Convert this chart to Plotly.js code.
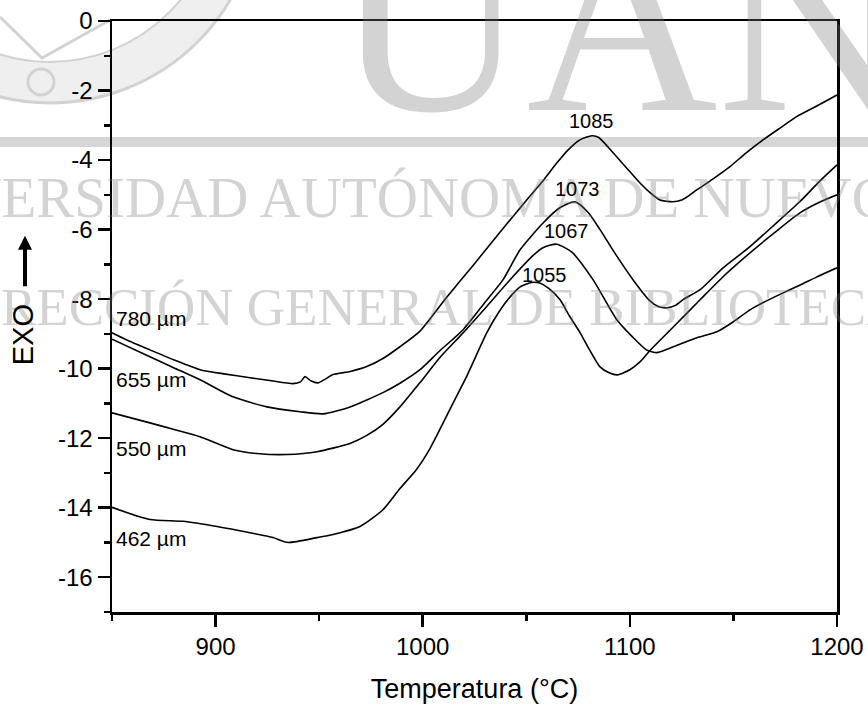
<!DOCTYPE html>
<html>
<head>
<meta charset="utf-8">
<script src="https://cdn.plot.ly/plotly-3.0.1.min.js"></script>
<style>
  html, body { margin: 0; padding: 0; background: #ffffff; }
  #chart { width: 868px; height: 709px; }
</style>
</head>
<body>
<div id="chart"></div>
<script>
// ---- data (Temperatura °C, EXO signal) ----
const t780 = [850, 858, 868.3, 880, 892.5, 904, 916.6, 927, 937.4, 941, 943.2, 946, 949.4, 953, 956.7, 965, 973, 981, 989, 998.7, 1011, 1024.3, 1037, 1050, 1058, 1064.8, 1070, 1075.9, 1081.7, 1085, 1091.9, 1098, 1104.9, 1110, 1114.5, 1120.8, 1125, 1127.6, 1132.3, 1140, 1148.3, 1156, 1164.3, 1172, 1180.5, 1190, 1200];
const v780 = [-8.97, -9.2, -9.46, -9.75, -10.03, -10.15, -10.26, -10.35, -10.43, -10.38, -10.23, -10.35, -10.41, -10.3, -10.17, -10.08, -9.94, -9.7, -9.37, -8.92, -7.99, -7.03, -6.1, -5.16, -4.6, -4.08, -3.72, -3.42, -3.3, -3.35, -3.79, -4.2, -4.66, -4.95, -5.15, -5.2, -5.15, -5.06, -4.86, -4.55, -4.19, -3.8, -3.42, -3.1, -2.75, -2.45, -2.13];

const t655 = [850, 868.3, 880, 892.5, 908.4, 924.8, 940.8, 951.9, 964.9, 980.8, 989, 998.7, 1008, 1019.5, 1030, 1038.8, 1047, 1058.1, 1066, 1073.5, 1079.8, 1085.6, 1093, 1101.5, 1109.7, 1114, 1118, 1122, 1126, 1133.9, 1145, 1158, 1170, 1182, 1191.8, 1200];
const v655 = [-9.15, -9.66, -9.98, -10.32, -10.81, -11.1, -11.24, -11.3, -11.1, -10.69, -10.42, -10.03, -9.5, -8.88, -8.1, -7.44, -6.58, -5.81, -5.38, -5.2, -5.5, -6.0, -6.7, -7.44, -8.05, -8.22, -8.25, -8.18, -8.0, -7.73, -7.1, -6.49, -5.85, -5.2, -4.6, -4.14];

const t550 = [850, 868.3, 880, 892.5, 908.4, 921.4, 934.5, 949, 964.9, 973, 980.8, 989, 998.7, 1008, 1019.5, 1030.9, 1043.6, 1053.2, 1058, 1064.7, 1072, 1082.2, 1093.8, 1101.5, 1108, 1113, 1119, 1125.7, 1133, 1142, 1150, 1158, 1166, 1174, 1182, 1190.3, 1200];
const v550 = [-11.27, -11.56, -11.75, -11.96, -12.33, -12.45, -12.47, -12.39, -12.15, -11.92, -11.6, -11.1, -10.4, -9.7, -8.97, -8.21, -7.35, -6.75, -6.52, -6.42, -6.65, -7.44, -8.6, -9.1, -9.46, -9.54, -9.42, -9.26, -9.1, -8.94, -8.65, -8.31, -8.05, -7.82, -7.6, -7.36, -7.1];

const t462 = [850, 868.3, 884.3, 900.7, 916.6, 927.7, 935, 949, 956.7, 969.7, 980.8, 989, 997, 1003.5, 1014.6, 1021.4, 1030.9, 1037, 1042, 1047, 1052.6, 1056, 1061, 1066.3, 1071, 1076, 1080, 1085.6, 1090, 1094, 1100, 1105, 1109.7, 1120, 1133.9, 1146, 1158, 1170, 1182.1, 1192, 1200];
const v462 = [-13.99, -14.34, -14.39, -14.54, -14.72, -14.86, -15.0, -14.86, -14.77, -14.54, -14.06, -13.45, -12.9, -12.3, -11.0, -10.2, -8.97, -8.35, -7.95, -7.65, -7.52, -7.53, -7.7, -8.02, -8.5, -8.97, -9.4, -9.95, -10.12, -10.18, -10.03, -9.8, -9.48, -8.86, -8.02, -7.3, -6.67, -6.08, -5.52, -5.2, -5.0];

const sizeLabels = ['780 µm', '655 µm', '550 µm', '462 µm'];
const peakLabels = ['1085', '1073', '1067', '1055'];

const xTickVals = [900, 1000, 1100, 1200];
const xTickText = ['900', '1000', '1100', '1200'];
const yTickVals = [0, -2, -4, -6, -8, -10, -12, -14, -16];
const yTickText = ['0', '-2', '-4', '-6', '-8', '-10', '-12', '-14', '-16'];

// ---- traces ----
const series = [[t780, v780], [t655, v655], [t550, v550], [t462, v462]];
const traces = series.map((s, i) => ({
  x: s[0], y: s[1], type: 'scatter', mode: 'lines',
  name: sizeLabels[i],
  line: { color: '#000000', width: 1.6, shape: 'spline', smoothing: 0.6 },
  hoverinfo: 'skip'
}));

// ---- pixel helpers for the watermark (plot area 112..837 x 21..612.5) ----
const PL = 112, PW = 725, PT = 21, PH = 591.5;
const px = v => (v - PL) / PW;
const py = v => 1 - (v - PT) / PH;

const wmColor = 'rgba(120,120,120,0.33)';
const serif = 'Liberation Serif, Times New Roman, serif';
const sans = 'Liberation Sans, Arial, Helvetica, sans-serif';

const annotations = [
  // watermark texts (scan of library copy)
  { xref: 'paper', yref: 'paper', x: px(333), y: py(20.6), xanchor: 'left', yanchor: 'middle',
    text: 'UANL', showarrow: false, font: { family: serif, size: 265, color: wmColor } },
  { xref: 'paper', yref: 'paper', x: px(-143), y: py(197.8), xanchor: 'left', yanchor: 'middle',
    text: 'UNIVERSIDAD AUTÓNOMA DE NUEVO LEÓN', showarrow: false, font: { family: serif, size: 57, color: wmColor } },
  { xref: 'paper', yref: 'paper', x: px(-57), y: py(307.1), xanchor: 'left', yanchor: 'middle',
    text: 'DIRECCIÓN GENERAL DE BIBLIOTECAS', showarrow: false, font: { family: serif, size: 53, color: wmColor } },
  // y-axis label "EXO" with upward arrow
  { xref: 'paper', yref: 'paper', x: px(22.5), y: py(335), xanchor: 'center', yanchor: 'middle',
    text: 'EXO', textangle: -90, showarrow: false, font: { family: sans, size: 29, color: '#000' } },
  { xref: 'paper', yref: 'paper', x: px(25), y: py(236), text: '', showarrow: true,
    ax: 0, ay: 52, arrowhead: 2, arrowsize: 0.7, arrowwidth: 4, arrowcolor: '#000' },
  // curve labels
  { x: 851, y: -8.57, xanchor: 'left', yanchor: 'middle', text: sizeLabels[0], showarrow: false, font: { family: sans, size: 21, color: '#000' } },
  { x: 851, y: -10.32, xanchor: 'left', yanchor: 'middle', text: sizeLabels[1], showarrow: false, font: { family: sans, size: 21, color: '#000' } },
  { x: 851, y: -12.3, xanchor: 'left', yanchor: 'middle', text: sizeLabels[2], showarrow: false, font: { family: sans, size: 21, color: '#000' } },
  { x: 851, y: -14.89, xanchor: 'left', yanchor: 'middle', text: sizeLabels[3], showarrow: false, font: { family: sans, size: 21, color: '#000' } },
  { x: 1081.7, y: -2.87, xanchor: 'center', yanchor: 'middle', text: peakLabels[0], showarrow: false, font: { family: sans, size: 20, color: '#000' } },
  { x: 1074.7, y: -4.83, xanchor: 'center', yanchor: 'middle', text: peakLabels[1], showarrow: false, font: { family: sans, size: 20, color: '#000' } },
  { x: 1069.2, y: -6.03, xanchor: 'center', yanchor: 'middle', text: peakLabels[2], showarrow: false, font: { family: sans, size: 20, color: '#000' } },
  { x: 1059, y: -7.3, xanchor: 'center', yanchor: 'middle', text: peakLabels[3], showarrow: false, font: { family: sans, size: 20, color: '#000' } }
];

const shapes = [
  // watermark seal ring (top-left)
  { type: 'circle', xref: 'paper', yref: 'paper', layer: 'below',
    x0: px(50 - 188), x1: px(50 + 188), y0: py(-106 + 188), y1: py(-106 - 188),
    line: { color: '#efefef', width: 40 } },
  { type: 'circle', xref: 'paper', yref: 'paper', layer: 'below',
    x0: px(50 - 209), x1: px(50 + 209), y0: py(-106 + 209), y1: py(-106 - 209),
    line: { color: '#d2d2d2', width: 3 } },
  { type: 'circle', xref: 'paper', yref: 'paper', layer: 'below',
    x0: px(50 - 168), x1: px(50 + 168), y0: py(-106 + 168), y1: py(-106 - 168),
    line: { color: '#d2d2d2', width: 2 } },
  { type: 'path', xref: 'paper', yref: 'paper', layer: 'below',
    path: 'M ' + px(0) + ' ' + py(17) + ' L ' + px(42) + ' ' + py(58) + ' L ' + px(110) + ' ' + py(20),
    line: { color: '#d2d2d2', width: 3 } },
  { type: 'circle', xref: 'paper', yref: 'paper', layer: 'below',
    x0: px(28), x1: px(54), y0: py(95), y1: py(69),
    line: { color: '#d2d2d2', width: 3 } },
  // watermark band
  { type: 'rect', xref: 'paper', yref: 'paper', layer: 'below',
    x0: px(0), x1: px(868), y0: py(147), y1: py(137),
    fillcolor: '#d6d6d6', line: { width: 0 } }
];

const layout = {
  width: 868, height: 709,
  margin: { l: 112, r: 31, t: 21, b: 96.5, pad: 0 },
  paper_bgcolor: '#ffffff',
  plot_bgcolor: 'rgba(0,0,0,0)',
  showlegend: false,
  font: { family: sans, color: '#000000' },
  xaxis: {
    range: [850, 1200],
    tickmode: 'array', tickvals: xTickVals, ticktext: xTickText,
    ticks: 'outside', ticklen: 12, tickwidth: 2.5, tickcolor: '#000',
    minor: { dtick: 50, tick0: 850, ticks: 'outside', ticklen: 6, tickwidth: 2.5, tickcolor: '#000' },
    tickfont: { size: 24, color: '#000' },
    ticklabelstandoff: 0,
    showline: true, linewidth: 2.5, linecolor: '#000', mirror: true,
    showgrid: false, zeroline: false,
    title: { text: 'Temperatura (°C)', font: { size: 27, color: '#000' }, standoff: 20 }
  },
  yaxis: {
    range: [-17, 0],
    tickmode: 'array', tickvals: yTickVals, ticktext: yTickText,
    ticks: 'outside', ticklen: 12, tickwidth: 2.5, tickcolor: '#000',
    minor: { dtick: 1, tick0: 0, ticks: 'outside', ticklen: 6, tickwidth: 2.5, tickcolor: '#000' },
    tickfont: { size: 24, color: '#000' },
    ticklabelstandoff: 0,
    showline: true, linewidth: 2.5, linecolor: '#000', mirror: true,
    showgrid: false, zeroline: false
  },
  annotations: annotations,
  shapes: shapes
};

Plotly.newPlot('chart', traces, layout, { staticPlot: true, displayModeBar: false });
</script>
</body>
</html>
